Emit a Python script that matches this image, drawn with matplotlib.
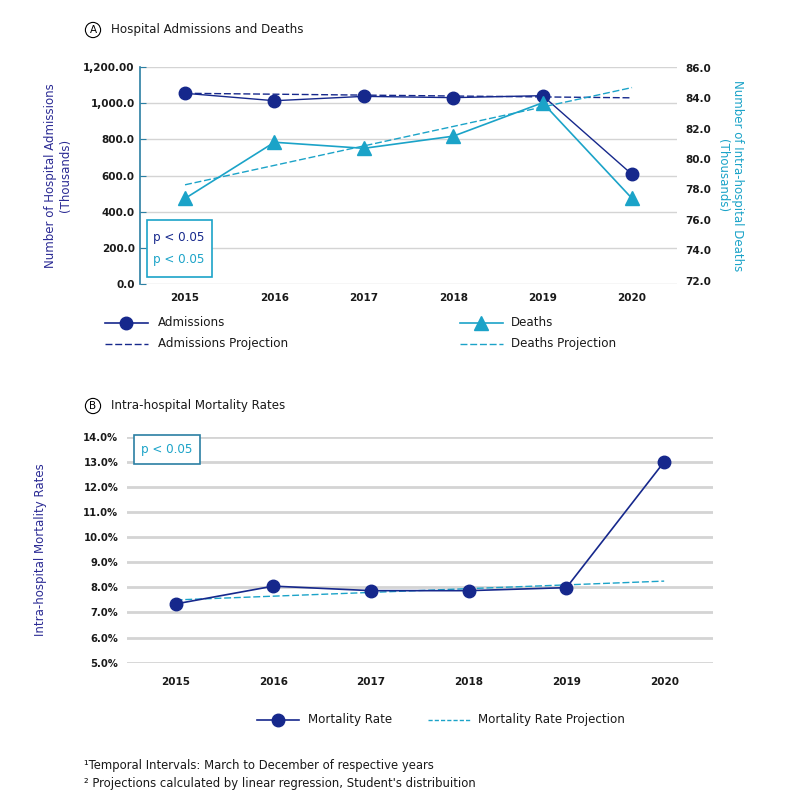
import numpy as np
import matplotlib.pyplot as plt
from matplotlib.lines import Line2D

# data
years = [2015, 2016, 2017, 2018, 2019, 2020]
admissions = [1055, 1014, 1038, 1031, 1042, 607]          # thousands
admissions_proj = [1055, 1050, 1045, 1040, 1035, 1030]
deaths = [77.4, 81.1, 80.7, 81.5, 83.7, 77.4]               # thousands
deaths_proj = [78.3, 79.58, 80.86, 82.14, 83.42, 84.7]
mortality = [7.34, 8.05, 7.87, 7.87, 7.99, 13.0]            # percent
mortality_proj = [7.5, 7.65, 7.8, 7.95, 8.1, 8.25]

left_ticks = [0, 200, 400, 600, 800, 1000, 1200]
left_labels = ["0.0", "200.0", "400.0", "600.0", "800.0", "1,000.0", "1,200.00"]
right_ticks = [72, 74, 76, 78, 80, 82, 84, 86]
rate_ticks = [5, 6, 7, 8, 9, 10, 11, 12, 13, 14]

NAVY = "#16288c"
CYAN = "#1ba3c8"
SPINE = "#2b7fa3"
GRID = "#d4d4d4"
TXT = "#1a1a1a"
FS = 8.6

plt.rcParams['font.family'] = ['DejaVu Sans']

fig = plt.figure(figsize=(7.87, 8.0), dpi=100)

# ---------------- Panel A ----------------
ax = fig.add_axes([0.1783, 0.6446, 0.6816, 0.2716])
ax2 = ax.twinx()

ax.set_xlim(2014.5, 2020.5)
ax.set_ylim(0, 1200)
ax2.set_ylim(71.75, 86.05)

for s in ['top', 'right', 'bottom']:
    ax.spines[s].set_visible(False)
    ax2.spines[s].set_visible(False)
ax2.spines['left'].set_visible(False)
ax.spines['left'].set_color(SPINE)
ax.spines['left'].set_linewidth(1.2)

ax.set_yticks(left_ticks)
ax.set_yticklabels(left_labels)
ax.tick_params(axis='y', direction='in', length=4, color=SPINE, labelsize=7.5,
               labelcolor=TXT, pad=4)
for t in ax.get_yticklabels():
    t.set_fontweight('bold')
ax.yaxis.grid(True, color=GRID, linewidth=1.0)
ax.set_axisbelow(True)

ax2.set_yticks(right_ticks)
ax2.set_yticklabels([f"{v:.1f}" for v in right_ticks])
ax2.tick_params(axis='y', length=0, labelsize=7.5, labelcolor=TXT, pad=6)
for t in ax2.get_yticklabels():
    t.set_fontweight('bold')

ax.set_xticks(years)
ax.set_xticklabels([str(y) for y in years])
ax.tick_params(axis='x', length=0, labelsize=7.5, labelcolor=TXT, pad=6)
for t in ax.get_xticklabels():
    t.set_fontweight('bold')

ax.plot(years, admissions_proj, color=NAVY, lw=1.0, ls=(0, (5, 2)), zorder=3)
ax2.plot(years, deaths_proj, color=CYAN, lw=1.0, ls=(0, (5, 2)), zorder=3)
ax.plot(years, admissions, color=NAVY, lw=1.0, marker='o', ms=9, zorder=4)
ax2.plot(years, deaths, color=CYAN, lw=1.2, marker='^', ms=10, zorder=4)

ax.set_ylabel("Number of Hospital Admissions\n(Thousands)", color="#2b2b94",
              fontsize=8.5, labelpad=8)
ax2.set_ylabel("Number of Intra-hospital Deaths\n(Thousands)", color=CYAN,
               fontsize=8.5, rotation=270, labelpad=24)

# p-value box A
fig.patches.append(plt.Rectangle((147 / 787, 1 - 277 / 800), 65 / 787, 57 / 800,
                                 transform=fig.transFigure, fill=True, fc='white',
                                 ec=CYAN, lw=1.2, zorder=5))
fig.text(153 / 787, 1 - 237 / 800, "p < 0.05", color=NAVY, fontsize=FS,
         va='center', zorder=6)
fig.text(153 / 787, 1 - 259 / 800, "p < 0.05", color=CYAN, fontsize=FS,
         va='center', zorder=6)

# panel A title
fig.text(93 / 787, 1 - 30 / 800, "A", fontsize=7.5, ha='center', va='center',
         bbox=dict(boxstyle='circle,pad=0.25', fc='white', ec='black', lw=0.8))
fig.text(111 / 787, 1 - 30 / 800, "Hospital Admissions and Deaths", fontsize=FS,
         va='center', color=TXT)

# legend A
legA = fig.add_axes([0, 0, 1, 1], facecolor='none')
legA.set_axis_off()
legA.set_xlim(0, 787)
legA.set_ylim(800, 0)
legA.add_line(Line2D([105, 148], [323, 323], color=NAVY, lw=1.2))
legA.plot([126], [323], 'o', color=NAVY, ms=9)
legA.text(158, 323, "Admissions", fontsize=FS, va='center', color=TXT)
legA.add_line(Line2D([105, 148], [344, 344], color=NAVY, lw=1.0, ls=(0, (5, 2))))
legA.text(158, 344, "Admissions Projection", fontsize=FS, va='center', color=TXT)
legA.add_line(Line2D([460, 503], [323, 323], color=CYAN, lw=1.2))
legA.plot([481], [323], '^', color=CYAN, ms=10)
legA.text(511, 323, "Deaths", fontsize=FS, va='center', color=TXT)
legA.add_line(Line2D([460, 503], [344, 344], color=CYAN, lw=1.0, ls=(0, (5, 2))))
legA.text(511, 344, "Deaths Projection", fontsize=FS, va='center', color=TXT)

# ---------------- Panel B ----------------
bx = fig.add_axes([0.161, 0.1716, 0.745, 0.2825])
bx.set_xlim(2014.5, 2020.5)
bx.set_ylim(5, 14)
for s in bx.spines.values():
    s.set_visible(False)
bx.set_yticks(rate_ticks)
bx.set_yticklabels([f"{v:.1f}%" for v in rate_ticks])
bx.tick_params(axis='y', length=0, labelsize=7.2, labelcolor=TXT, pad=6)
bx.set_xticks(years)
bx.set_xticklabels([str(y) for y in years])
bx.tick_params(axis='x', length=0, labelsize=7.5, labelcolor=TXT, pad=10)
for t in bx.get_xticklabels() + bx.get_yticklabels():
    t.set_fontweight('bold')
bx.yaxis.grid(True, color=GRID, linewidth=2.0)
bx.set_axisbelow(True)

bx.plot(years, mortality_proj, color=CYAN, lw=1.0, ls=(0, (5, 2)), zorder=3)
bx.plot(years, mortality, color=NAVY, lw=1.2, marker='o', ms=9, zorder=4)

bx.set_ylabel("Intra-hospital Mortality Rates", color="#2b2b94", fontsize=8.5,
              labelpad=26)

fig.patches.append(plt.Rectangle((134 / 787, 1 - 464 / 800), 66 / 787, 29 / 800,
                                 transform=fig.transFigure, fill=True, fc='white',
                                 ec=SPINE, lw=1.2, zorder=5))
fig.text(167 / 787, 1 - 450 / 800, "p < 0.05", color=CYAN, fontsize=FS,
         va='center', ha='center', zorder=6)

fig.text(93 / 787, 1 - 406 / 800, "B", fontsize=7.5, ha='center', va='center',
         bbox=dict(boxstyle='circle,pad=0.25', fc='white', ec='black', lw=0.8))
fig.text(111 / 787, 1 - 406 / 800, "Intra-hospital Mortality Rates", fontsize=FS,
         va='center', color=TXT)

# legend B
legA.add_line(Line2D([257, 299], [720, 720], color=NAVY, lw=1.2))
legA.plot([278], [720], 'o', color=NAVY, ms=9)
legA.text(308, 720, "Mortality Rate", fontsize=FS, va='center', color=TXT)
legA.add_line(Line2D([428, 470], [720, 720], color=CYAN, lw=1.0, ls=(0, (3, 1.5))))
legA.text(478, 720, "Mortality Rate Projection", fontsize=FS, va='center', color=TXT)

# footnotes
legA.text(84, 766, "\u00b9Temporal Intervals: March to December of respective years",
          fontsize=8.4, va='center', color=TXT)
legA.text(84, 783, "\u00b2 Projections calculated by linear regression, Student's distribuition",
          fontsize=8.4, va='center', color=TXT)

fig.savefig("out.png", dpi=100)
